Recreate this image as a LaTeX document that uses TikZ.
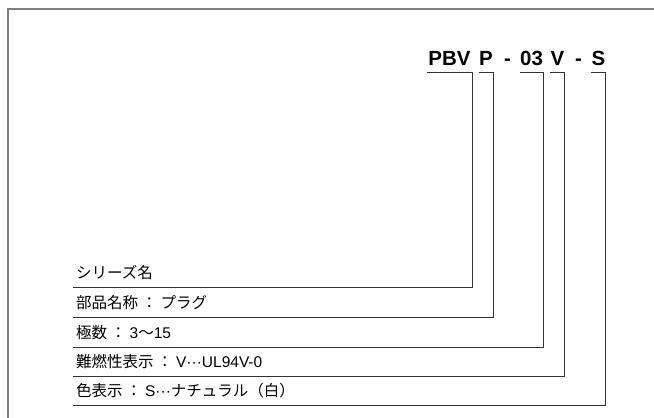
\documentclass[tikz,border=0pt]{standalone}
\usepackage{fontspec}
\setmainfont{Liberation Sans}
\newfontfamily\jpfont{Noto Sans CJK JP}
\usetikzlibrary{positioning}

\begin{document}
\begin{tikzpicture}[x=1pt,y=-1pt,
    code/.style={anchor=south,inner sep=0pt,text depth=6pt,font=\fontsize{20.5}{20}\selectfont\bfseries},
    lbl/.style={anchor=south west,inner xsep=3pt,inner ysep=0pt,text depth=8pt,font=\fontsize{15.5}{16}\selectfont},
    bracket/.style={draw=black!80,line width=0.9pt}]
    \useasboundingbox (0,0) rectangle (654,418);

    % draw the frame
    \draw[gray,line width=1.3pt] (8,418) -- (8,9) -- (654,9);

    % part number
    \node[code,minimum width=45pt] (pbv) at (449.5,72) {PBV};
    \node[code,minimum width=14pt] (plug) at (486,72) {P};
    \node[code] (dasha) at (507.5,72) {-};
    \node[code,minimum width=23pt] (poles) at (531.5,72) {03};
    \node[code,minimum width=13pt] (flame) at (557.5,72) {V};
    \node[code] (dashb) at (578.5,72) {-};
    \node[code,minimum width=13pt] (colour) at (598.5,72) {S};

    % labels
    \node[lbl] (series) at (73,287) {\jpfont シリーズ名};
    \node[lbl] (plugtxt) at (73,317) {\jpfont 部品名称 ： プラグ};
    \node[lbl] (polestxt) at (73,347) {{\jpfont 極数 ： }3{\jpfont 〜}15};
    \node[lbl] (flametxt) at (73,376) {{\jpfont 難燃性表示 ： }V···UL94V-0};
    \node[lbl] (colourtxt) at (73,405) {{\jpfont 色表示 ： }S···{\jpfont ナチュラル（白）}};

    % brackets
    \foreach \c/\t in {pbv/series,plug/plugtxt,poles/polestxt,flame/flametxt,colour/colourtxt}
        \draw[bracket] (\c.south west) -- (\c.south east) |- (\t.south west);
\end{tikzpicture}
\end{document}
